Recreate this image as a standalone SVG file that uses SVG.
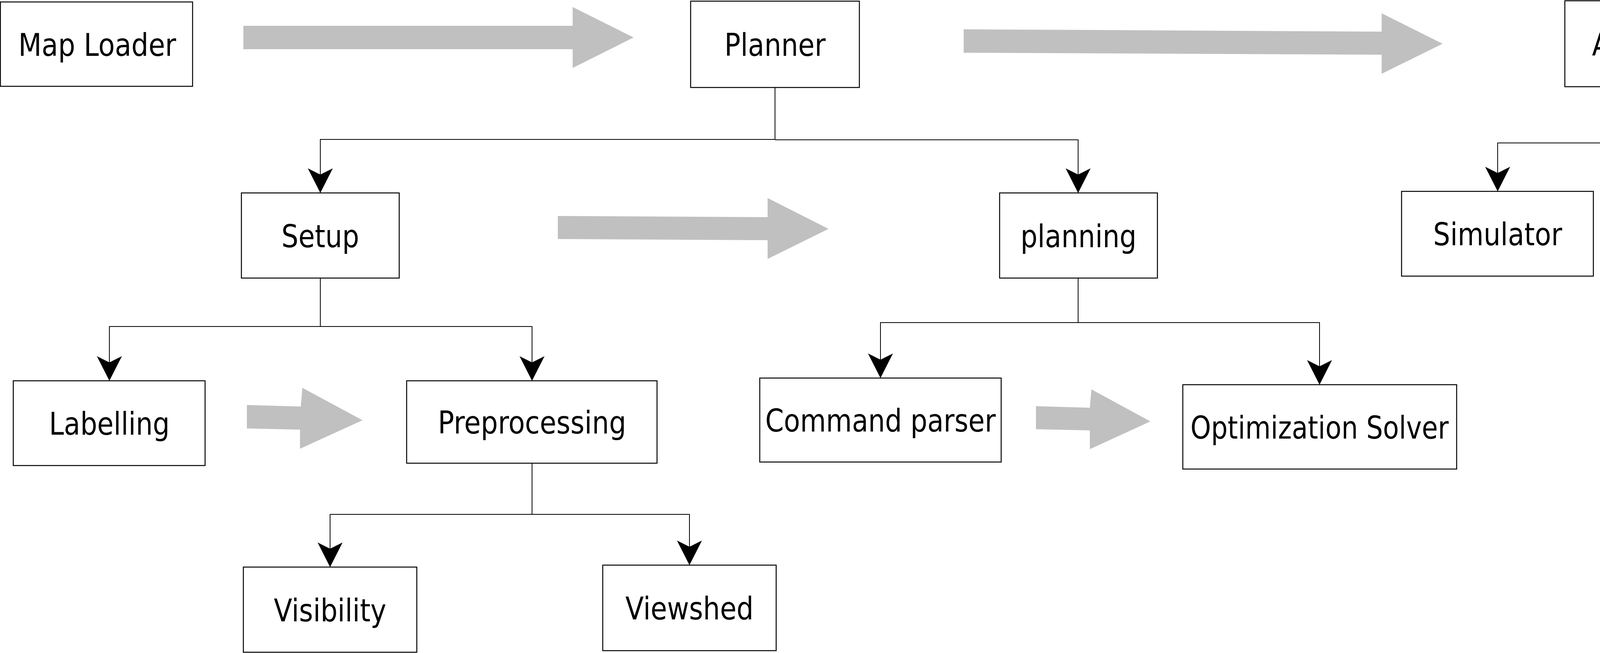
<svg xmlns="http://www.w3.org/2000/svg" width="4845" height="1672" viewBox="0 0 4845 1672">
<style>
.box{fill:#fff;stroke:#000;stroke-width:2.5}
.lbl{font-family:"DejaVu Sans","Liberation Sans",sans-serif;font-size:80px;fill:#000;text-anchor:middle}
.wire{fill:none;stroke:#000;stroke-width:2}
.wire.arr{marker-end:url(#head)}
.big{fill:#c0c0c0;stroke:none}
</style>
<defs>
<marker id="head" markerUnits="userSpaceOnUse" viewBox="-70 -40 80 80" markerWidth="80" markerHeight="80" refX="0" refY="0" orient="auto" overflow="visible">
<path d="M0,0 L-63,-32 L-47,0 L-63,32 Z" fill="#000"/>
</marker>
</defs>
<rect width="4845" height="1672" fill="#fff"/>
<g id="connectors">
<path class="big" d="M623,66 L1466,66 L1466,18 L1622,96 L1466,174 L1466,126 L623,126 Z"/>
<path class="big" d="M2467,75 L3537,81 L3537,34 L3693,112 L3537,189 L3537,140 L2467,135 Z"/>
<path class="big" d="M1428,553 L1965,556 L1965,507 L2121,586 L1965,663 L1965,615 L1428,612 Z"/>
<path class="big" d="M632,1037 L770,1041 L774,993 L928,1076 L768,1149 L768,1100 L632,1097 Z"/>
<path class="big" d="M2652,1040 L2790,1044 L2794,997 L2945,1079 L2790,1150 L2790,1102 L2652,1099 Z"/>
<path class="wire" d="M1984,224 V357"/>
<path class="wire arr" d="M1984,357 H820 V494"/>
<path class="wire arr" d="M1984,358 H2760 V494"/>
<path class="wire" d="M4220,222 V366"/>
<path class="wire arr" d="M4220,366 H3834 V490"/>
<path class="wire arr" d="M4220,366 H4599 V490"/>
<path class="wire" d="M820,712 V836"/>
<path class="wire arr" d="M820,836 H280 V975"/>
<path class="wire arr" d="M820,836 H1362 V975"/>
<path class="wire" d="M2760,712 V826"/>
<path class="wire arr" d="M2760,826 H2254 V968"/>
<path class="wire arr" d="M2760,826 H3378 V985"/>
<path class="wire" d="M1362,1186 V1317"/>
<path class="wire arr" d="M1362,1317 H845 V1452"/>
<path class="wire arr" d="M1362,1317 H1765 V1447"/>
</g>
<g id="map-loader"><rect class="box" x="1" y="5" width="492" height="216"/><text class="lbl" x="249" y="143" textLength="404" lengthAdjust="spacingAndGlyphs">Map Loader</text></g>
<g id="planner"><rect class="box" x="1768" y="3" width="432" height="221"/><text class="lbl" x="1984" y="143" textLength="259" lengthAdjust="spacingAndGlyphs">Planner</text></g>
<g id="actuator"><rect class="box" x="4006" y="2" width="432" height="220"/><text class="lbl" x="4222" y="142" textLength="293" lengthAdjust="spacingAndGlyphs">Actuator</text></g>
<g id="setup"><rect class="box" x="618" y="494" width="404" height="218"/><text class="lbl" x="820" y="633" textLength="199" lengthAdjust="spacingAndGlyphs">Setup</text></g>
<g id="planning"><rect class="box" x="2559" y="494" width="404" height="218"/><text class="lbl" x="2761" y="633" textLength="297" lengthAdjust="spacingAndGlyphs">planning</text></g>
<g id="simulator"><rect class="box" x="3588" y="490" width="491" height="217"/><text class="lbl" x="3834" y="628" textLength="330" lengthAdjust="spacingAndGlyphs">Simulator</text></g>
<g id="robot"><rect class="box" x="4354" y="490" width="489" height="217"/><text class="lbl" x="4599" y="628" textLength="201" lengthAdjust="spacingAndGlyphs">Robot</text></g>
<g id="labelling"><rect class="box" x="34" y="975" width="491" height="217"/><text class="lbl" x="280" y="1113" textLength="309" lengthAdjust="spacingAndGlyphs">Labelling</text></g>
<g id="preprocessing"><rect class="box" x="1041" y="975" width="641" height="211"/><text class="lbl" x="1362" y="1110" textLength="482" lengthAdjust="spacingAndGlyphs">Preprocessing</text></g>
<g id="command-parser"><rect class="box" x="1945" y="968" width="618" height="215"/><text class="lbl" x="2254" y="1105" textLength="590" lengthAdjust="spacingAndGlyphs">Command parser</text></g>
<g id="optimization-solver"><rect class="box" x="3028" y="985" width="701" height="216"/><text class="lbl" x="3378" y="1123" textLength="661" lengthAdjust="spacingAndGlyphs">Optimization Solver</text></g>
<g id="visibility"><rect class="box" x="623" y="1452" width="444" height="218"/><text class="lbl" x="845" y="1591" textLength="288" lengthAdjust="spacingAndGlyphs">Visibility</text></g>
<g id="viewshed"><rect class="box" x="1543" y="1447" width="444" height="219"/><text class="lbl" x="1765" y="1586" textLength="328" lengthAdjust="spacingAndGlyphs">Viewshed</text></g>
</svg>
